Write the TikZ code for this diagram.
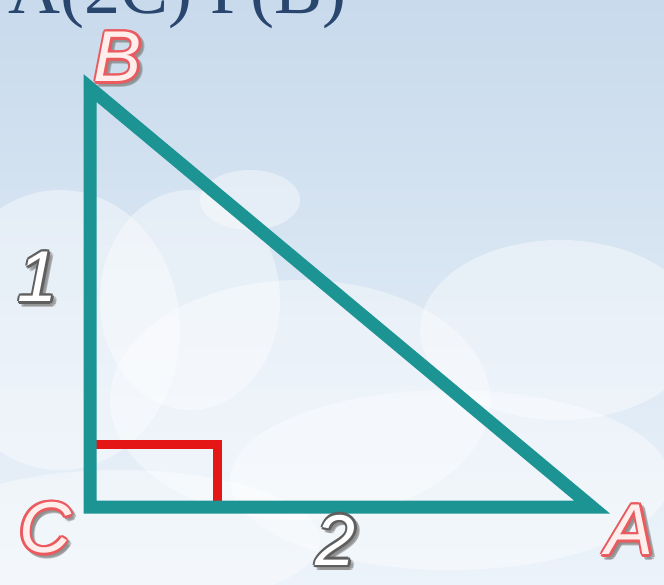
\documentclass[tikz,border=0pt]{standalone}
\usepackage{fontspec}
\setmainfont{Liberation Serif}
\newfontfamily\lblfont{Liberation Sans}
\usetikzlibrary{calc}
\definecolor{teal1}{RGB}{28,148,148}
\definecolor{red1}{RGB}{228,22,22}
\definecolor{skyA}{RGB}{200,218,236}
\definecolor{skyB}{RGB}{236,243,250}
\definecolor{ltred}{RGB}{235,90,95}
\definecolor{ltpink}{RGB}{255,238,235}
\definecolor{gryO}{RGB}{95,95,95}
\definecolor{navy1}{RGB}{40,70,110}
\tikzset{
  edge/.style={draw=teal1,line width=13pt,line join=miter,line cap=butt},
  rmark/.style={draw=red1,line width=9pt,line join=miter},
  cloud/.style={fill=white,opacity=0.4},
}
\newcommand{\hollowlbl}[5]{% name, pos, text, outline color, fill color
  \foreach \dx/\dy in {2.6/0,-2.6/0,0/2.6,0/-2.6,1.9/1.9,-1.9/1.9,1.9/-1.9,-1.9/-1.9}{
    \node[text=black!45,opacity=0.5,font=\lblfont\itshape\fontsize{72}{72}\selectfont,inner sep=0pt] at ($(#2)+(\dx+3,\dy+3)$) {#3};
  }
  \foreach \dx/\dy in {2.6/0,-2.6/0,0/2.6,0/-2.6,1.9/1.9,-1.9/1.9,1.9/-1.9,-1.9/-1.9}{
    \node[text=#4,font=\lblfont\itshape\fontsize{72}{72}\selectfont,inner sep=0pt] at ($(#2)+(\dx,\dy)$) {#3};
  }
  \node[text=#5,font=\lblfont\itshape\fontsize{72}{72}\selectfont,inner sep=0pt] (#1) at (#2) {#3};
}
\begin{document}
\begin{tikzpicture}[x=1pt,y=-1pt]
\useasboundingbox (0,0) rectangle (664,584);
\begin{scope}
\clip (0,0) rectangle (664,584);
\shade[top color=skyA,bottom color=skyB] (0,0) rectangle (664,584);
% clouds
\fill[cloud] (60,330) ellipse (120 and 140);
\fill[cloud] (190,300) ellipse (90 and 110);
\fill[cloud] (300,400) ellipse (190 and 120);
\fill[cloud] (560,330) ellipse (140 and 90);
\fill[cloud] (450,480) ellipse (220 and 90);
\fill[cloud] (120,540) ellipse (200 and 70);
\fill[cloud] (250,200) ellipse (50 and 30);
% clipped title text
\node[anchor=base west,text=navy1,font=\fontsize{72}{72}\selectfont,inner sep=0pt] (title) at (8,13) {A(2C) P(B)};
\end{scope}
% vertices
\coordinate (B) at (90,88);
\coordinate (C) at (90,507);
\coordinate (A) at (592,507);
\coordinate (m1) at (90,444);
\coordinate (m2) at (217,444);
\coordinate (m3) at (217,507);
\draw[rmark] ($(m1)+(4,0)$) -- (m2) -- ($(m3)+(0,-2)$);
\draw[edge] (B) -- (C) -- (A) -- cycle;
% labels
\hollowlbl{lB}{118,57}{B}{ltred}{ltpink}
\hollowlbl{lC}{45,528}{C}{ltred}{ltpink}
\hollowlbl{lA}{630,530}{A}{ltred}{ltpink}
\hollowlbl{l1}{38,277}{1}{gryO}{white}
\hollowlbl{l2}{336,540}{2}{gryO}{white}
\end{tikzpicture}
\end{document}
